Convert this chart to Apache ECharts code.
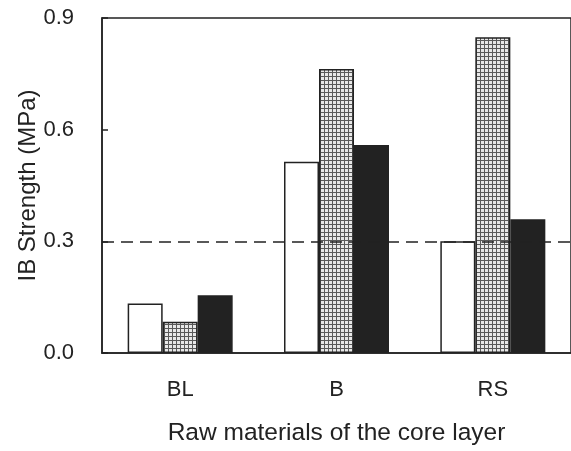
<!DOCTYPE html>
<html>
<head>
<meta charset="utf-8">
<script src="https://cdn.jsdelivr.net/npm/echarts@6/dist/echarts.min.js"></script>
<style>
  html, body { margin: 0; padding: 0; background: #fff; }
  #chart { width: 571px; height: 451px; }
</style>
</head>
<body>
<div id="chart"></div>
<script>
// data
const categories = ['BL', 'B', 'RS'];
const whiteBars = [0.133, 0.514, 0.300];
const dottedBars = [0.084, 0.763, 0.848];
const blackBars = [0.155, 0.559, 0.359];
const yTicks = [0, 0.3, 0.6, 0.9];
const refLine = 0.3;

// small screen-tone pattern for the middle bars
function makeDots() {
  const c = document.createElement('canvas');
  c.width = 4;
  c.height = 4;
  const ctx = c.getContext('2d');
  ctx.fillStyle = '#e8e8e8';
  ctx.fillRect(0, 0, 4, 4);
  ctx.fillStyle = '#5a5a5a';
  ctx.fillRect(0, 0, 4, 1);
  ctx.fillRect(0, 0, 1, 4);
  return c;
}

const font = '"Liberation Sans", Arial, sans-serif';
const border = { borderColor: '#222', borderWidth: 1.5 };

const chart = echarts.init(document.getElementById('chart'), null, { renderer: 'canvas' });
chart.setOption({
  animation: false,
  backgroundColor: '#fff',
  grid: {
    left: 102, right: -2, top: 18, bottom: 95,
    show: true, borderColor: '#222', borderWidth: 1.5,
  },
  xAxis: {
    type: 'category',
    data: categories,
    name: 'Raw materials of the core layer',
    nameLocation: 'middle',
    nameGap: 68,
    nameTextStyle: { fontFamily: font, fontSize: 24.5, color: '#222' },
    axisLine: { lineStyle: { color: '#222', width: 1.5 } },
    axisTick: { inside: true, length: 8, lineStyle: { color: '#222', width: 1.5 } },
    axisLabel: { margin: 26, fontFamily: font, fontSize: 22, color: '#222' },
  },
  yAxis: {
    type: 'value',
    min: yTicks[0],
    max: yTicks[yTicks.length - 1],
    interval: 0.3,
    name: 'IB Strength (MPa)',
    nameLocation: 'middle',
    nameGap: 62,
    nameMoveOverlap: false,
    nameTextStyle: { fontFamily: font, fontSize: 24, color: '#222' },
    axisLine: { show: true, lineStyle: { color: '#222', width: 1.5 } },
    axisTick: { show: true, inside: true, length: 6, lineStyle: { color: '#222', width: 1.5 } },
    axisLabel: {
      margin: 28, fontFamily: font, fontSize: 22, color: '#222',
      formatter: v => v.toFixed(1),
    },
    splitLine: { show: false },
  },
  series: [
    {
      type: 'bar', data: whiteBars, barWidth: 35, barGap: '0%',
      itemStyle: Object.assign({ color: '#fff' }, border),
      markLine: {
        symbol: 'none', silent: true, label: { show: false },
        lineStyle: { color: '#222', type: [12, 7], width: 1.5 },
        data: [{ yAxis: refLine }],
      },
    },
    {
      type: 'bar', data: dottedBars, barWidth: 35, barGap: '0%',
      itemStyle: Object.assign({ color: { image: makeDots(), repeat: 'repeat' } }, border),
    },
    {
      type: 'bar', data: blackBars, barWidth: 35, barGap: '0%',
      itemStyle: Object.assign({ color: '#222' }, border),
    },
  ],
});
</script>
</body>
</html>
